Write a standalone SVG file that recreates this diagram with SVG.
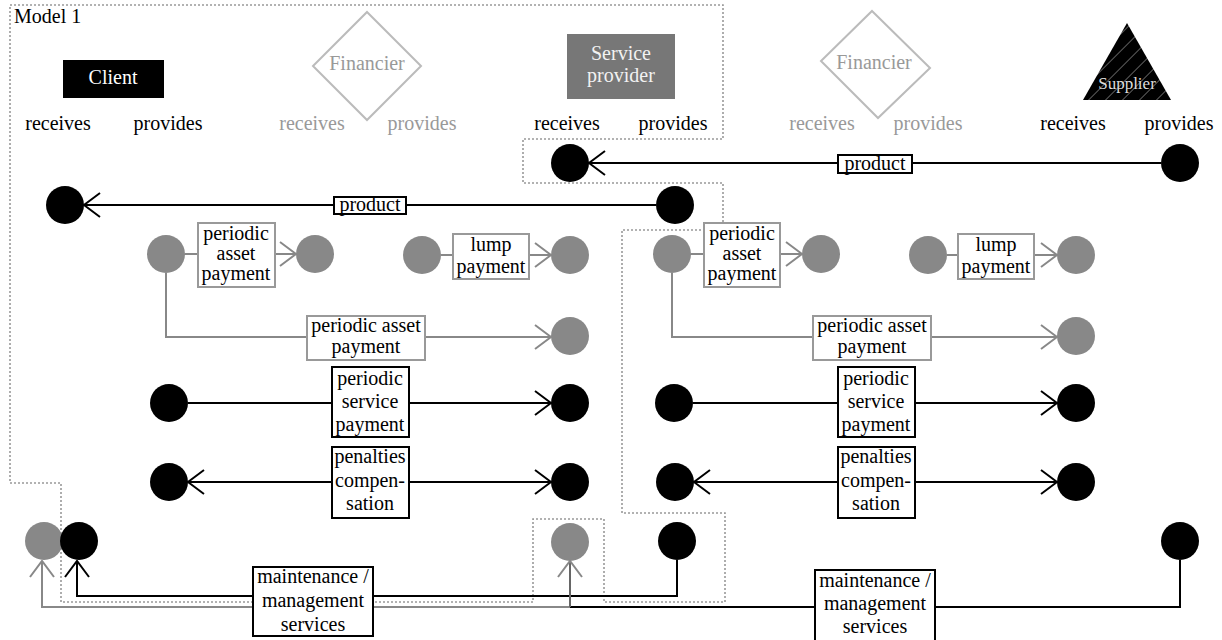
<svg xmlns="http://www.w3.org/2000/svg" width="1222" height="640" viewBox="0 0 1222 640">
<style>
text{font-family:"Liberation Serif","Times New Roman",serif;font-size:20px;fill:#000}
.c{text-anchor:middle}
.g{fill:#999}
.w{fill:#f2f2f2}
.lb{fill:#fff;stroke:#000;stroke-width:2}
.lg{fill:#fff;stroke:#999;stroke-width:2}
.k{fill:none;stroke:#000;stroke-width:2}
.gl{fill:none;stroke:#888;stroke-width:2}
.bc{fill:#000}
.gc{fill:#888}
.dot{fill:none;stroke:#999;stroke-width:1.6;stroke-dasharray:2 2}
</style>
<defs>
<marker id="ab" viewBox="-18 -14 20 28" refX="0" refY="0" markerWidth="20" markerHeight="28" markerUnits="userSpaceOnUse" orient="auto-start-reverse"><path d="M-16,-12 L0,0 L-16,12" fill="none" stroke="#000" stroke-width="2"/></marker>
<marker id="ag" viewBox="-18 -14 20 28" refX="0" refY="0" markerWidth="20" markerHeight="28" markerUnits="userSpaceOnUse" orient="auto-start-reverse"><path d="M-16,-12 L0,0 L-16,12" fill="none" stroke="#888" stroke-width="2"/></marker>
<pattern id="hatch" patternUnits="userSpaceOnUse" width="12" height="12" patternTransform="rotate(45)"><rect width="12" height="12" fill="#000"/><line x1="0" y1="0" x2="0" y2="12" stroke="#bbb" stroke-width="1"/></pattern>
</defs>

<path id="model-boundary" class="dot" d="M10,5 H723 V139 H523 V183 H723 V230 H622 V513 H725 V602 H604 V519 H533 V602 H61 V483 H10 Z"/>
<text x="14" y="23">Model 1</text>

<g id="client">
<rect x="63" y="60" width="101" height="38" fill="#000"/>
<text class="c w" x="113" y="84" style="fill:#fff">Client</text>
<text class="c" x="58" y="130">receives</text>
<text class="c" x="168" y="130">provides</text>
</g>
<g id="financier1">
<path d="M367,12 L421,66 L367,120 L313,66 Z" fill="none" stroke="#bbb" stroke-width="2"/>
<text class="c g" x="367" y="70">Financier</text>
<text class="c g" x="312" y="130">receives</text>
<text class="c g" x="422" y="130">provides</text>
</g>
<g id="service-provider">
<rect x="567" y="34" width="108" height="65" fill="#777"/>
<text class="c w" x="621" y="60">Service</text>
<text class="c w" x="621" y="82">provider</text>
<text class="c" x="567" y="130">receives</text>
<text class="c" x="673" y="130">provides</text>
</g>
<g id="financier2">
<path d="M872,11 L930,68 L878,118 L821,61 Z" fill="none" stroke="#bbb" stroke-width="2"/>
<text class="c g" x="874" y="69">Financier</text>
<text class="c g" x="822" y="130">receives</text>
<text class="c g" x="928" y="130">provides</text>
</g>
<g id="supplier">
<path d="M1127,23 L1171,100 L1083,100 Z" fill="url(#hatch)"/>
<text class="c" x="1127" y="89" style="font-size:17px;fill:#ddd">Supplier</text>
<text class="c" x="1073" y="130">receives</text>
<text class="c" x="1179" y="130">provides</text>
</g>

<g id="connectors">
<path class="k" d="M1161,163 H589" marker-end="url(#ab)"/>
<path class="k" d="M656,205 H84" marker-end="url(#ab)"/>
<path class="gl" d="M185,254 H296" marker-end="url(#ag)"/>
<path class="gl" d="M441,255 H551" marker-end="url(#ag)"/>
<path class="gl" d="M691,254 H802" marker-end="url(#ag)"/>
<path class="gl" d="M947,255 H1057" marker-end="url(#ag)"/>
<path class="gl" d="M166,273 V337 H551" marker-end="url(#ag)"/>
<path class="gl" d="M672,273 V337 H1057" marker-end="url(#ag)"/>
<path class="k" d="M188,403 H551" marker-end="url(#ab)"/>
<path class="k" d="M693,403 H1057" marker-end="url(#ab)"/>
<path class="k" d="M188,482 H551" marker-start="url(#ab)" marker-end="url(#ab)"/>
<path class="k" d="M694,482 H1057" marker-start="url(#ab)" marker-end="url(#ab)"/>
<path class="gl" d="M570,607 H42 V561" marker-end="url(#ag)"/>
<path class="k" d="M677,560 V596 H77 V561" marker-end="url(#ab)"/>
<path class="k" d="M1180,560 V607 H570"/>
<path fill="none" stroke="#666" stroke-width="2" d="M570,607 V561" marker-end="url(#ag)"/>
</g>

<g id="label-product-1"><rect class="lb" x="838" y="155" width="74" height="18"/><text class="c" x="875" y="170">product</text></g>
<g id="label-product-2"><rect class="lb" x="334" y="197" width="72" height="17"/><text class="c" x="370" y="211">product</text></g>
<g id="label-pap-1"><rect class="lg" x="198" y="223" width="77" height="64"/><text class="c" x="236" y="240">periodic</text><text class="c" x="236" y="260">asset</text><text class="c" x="236" y="280">payment</text></g>
<g id="label-lump-1"><rect class="lg" x="453" y="234" width="76" height="45"/><text class="c" x="491" y="251">lump</text><text class="c" x="491" y="273">payment</text></g>
<g id="label-pap-2"><rect class="lg" x="704" y="223" width="76" height="64"/><text class="c" x="742" y="240">periodic</text><text class="c" x="742" y="260">asset</text><text class="c" x="742" y="280">payment</text></g>
<g id="label-lump-2"><rect class="lg" x="958" y="234" width="76" height="45"/><text class="c" x="996" y="251">lump</text><text class="c" x="996" y="273">payment</text></g>
<g id="label-pap-3"><rect class="lg" x="307" y="316" width="118" height="44"/><text class="c" x="366" y="332">periodic asset</text><text class="c" x="366" y="353">payment</text></g>
<g id="label-pap-4"><rect class="lg" x="813" y="316" width="118" height="44"/><text class="c" x="872" y="332">periodic asset</text><text class="c" x="872" y="353">payment</text></g>
<g id="label-psp-1"><rect class="lb" x="332" y="367" width="77" height="70"/><text class="c" x="370" y="385">periodic</text><text class="c" x="370" y="408">service</text><text class="c" x="370" y="431">payment</text></g>
<g id="label-psp-2"><rect class="lb" x="838" y="367" width="77" height="70"/><text class="c" x="876" y="385">periodic</text><text class="c" x="876" y="408">service</text><text class="c" x="876" y="431">payment</text></g>
<g id="label-pen-1"><rect class="lb" x="332" y="447" width="77" height="71"/><text class="c" x="370" y="463">penalties</text><text class="c" x="370" y="487">compen-</text><text class="c" x="370" y="510">sation</text></g>
<g id="label-pen-2"><rect class="lb" x="838" y="447" width="77" height="71"/><text class="c" x="876" y="463">penalties</text><text class="c" x="876" y="487">compen-</text><text class="c" x="876" y="510">sation</text></g>
<g id="label-maint-1"><rect class="lb" x="253" y="567" width="120" height="69"/><text class="c" x="313" y="583">maintenance /</text><text class="c" x="313" y="607">management</text><text class="c" x="313" y="631">services</text></g>
<g id="label-maint-2"><rect class="lb" x="815" y="570" width="120" height="72"/><text class="c" x="875" y="587">maintenance /</text><text class="c" x="875" y="610">management</text><text class="c" x="875" y="633">services</text></g>

<g id="ports">
<circle class="bc" cx="570" cy="163" r="19"/>
<circle class="bc" cx="1180" cy="163" r="19"/>
<circle class="bc" cx="65" cy="205" r="19"/>
<circle class="bc" cx="675" cy="205" r="19"/>
<circle class="gc" cx="166" cy="254" r="19"/>
<circle class="gc" cx="315" cy="254" r="19"/>
<circle class="gc" cx="422" cy="255" r="19"/>
<circle class="gc" cx="570" cy="255" r="19"/>
<circle class="gc" cx="672" cy="254" r="19"/>
<circle class="gc" cx="821" cy="254" r="19"/>
<circle class="gc" cx="928" cy="255" r="19"/>
<circle class="gc" cx="1076" cy="255" r="19"/>
<circle class="gc" cx="570" cy="336" r="19"/>
<circle class="gc" cx="1076" cy="336" r="19"/>
<circle class="bc" cx="169" cy="403" r="19"/>
<circle class="bc" cx="570" cy="403" r="19"/>
<circle class="bc" cx="674" cy="403" r="19"/>
<circle class="bc" cx="1076" cy="403" r="19"/>
<circle class="bc" cx="169" cy="482" r="19"/>
<circle class="bc" cx="570" cy="482" r="19"/>
<circle class="bc" cx="675" cy="482" r="19"/>
<circle class="bc" cx="1076" cy="482" r="19"/>
<circle class="gc" cx="44" cy="541" r="19"/>
<circle class="bc" cx="79" cy="541" r="19"/>
<circle class="gc" cx="570" cy="542" r="19"/>
<circle class="bc" cx="677" cy="541" r="19"/>
<circle class="bc" cx="1180" cy="541" r="19"/>
</g>
</svg>
